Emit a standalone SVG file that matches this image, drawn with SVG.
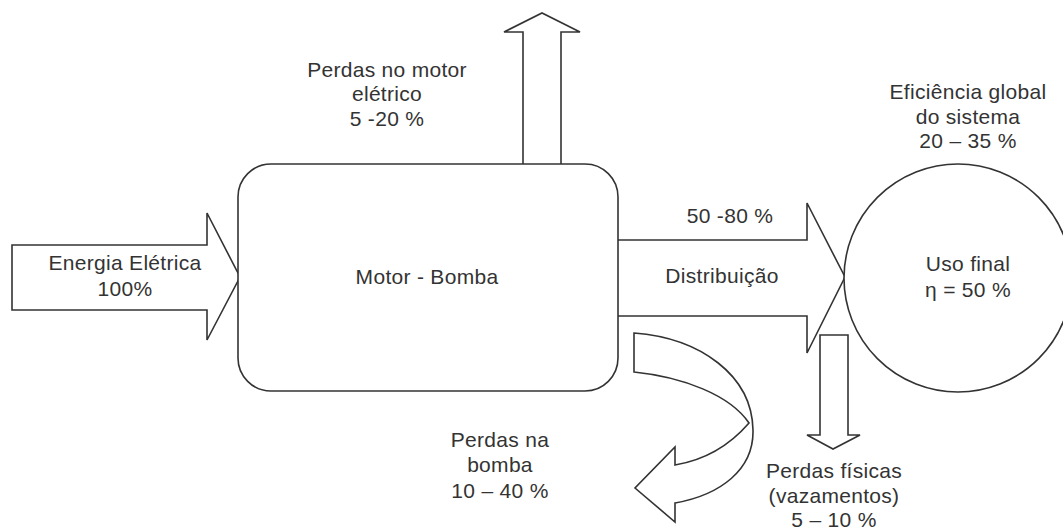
<svg xmlns="http://www.w3.org/2000/svg" width="1063" height="529" viewBox="0 0 1063 529">
<style>
.s{fill:#fff;stroke:#333;stroke-width:1.6;stroke-linejoin:miter}
text{font-family:"Liberation Sans",Arial,sans-serif;font-size:21px;letter-spacing:0.3px;fill:#333;text-anchor:middle}
</style>
<rect width="1063" height="529" fill="#fff"/>
<g id="connectors">
<path id="arrow-in" class="s" d="M12,245 L207,245 L207,213 L240,277 L207,340 L207,310 L12,310 Z"/>
<path id="arrow-motor-loss" class="s" d="M523,164 L523,32 L504,32 L542,13 L580,32 L561,32 L561,164"/>
<path id="arrow-dist" class="s" d="M618,240 L807,240 L807,203 L845,277 L807,353 L807,316 L618,316"/>
<path id="arrow-leak" class="s" d="M820,335 L848,335 L848,435 L860,435 L833,449 L807,435 L820,435 Z"/>
<path id="arrow-pump-loss" class="s" d="M634,333 C700,338 752,375 753,430 C754,470 720,495 675,503 L675,522 L635,488 L675,447 L675,465 C705,460 730,445 749,423 C730,395 683,377 634,372 Z"/>
</g>
<g id="node-motor">
<rect class="s" x="238" y="164" width="380" height="227" rx="33" ry="33"/>
<text x="427" y="284">Motor - Bomba</text>
</g>
<g id="node-uso">
<circle class="s" cx="958" cy="278" r="114"/>
<text x="968" y="271">Uso final</text>
<text x="968" y="297">η = 50 %</text>
</g>
<g id="labels">
<text x="125" y="270">Energia Elétrica</text>
<text x="125" y="296">100%</text>
<text x="387" y="77">Perdas no motor</text>
<text x="387" y="101">elétrico</text>
<text x="387" y="126">5 -20 %</text>
<text x="968" y="99">Eficiência global</text>
<text x="968" y="124">do sistema</text>
<text x="968" y="148">20 – 35 %</text>
<text x="730" y="223">50 -80 %</text>
<text x="722" y="283">Distribuição</text>
<text x="500" y="447">Perdas na</text>
<text x="500" y="472">bomba</text>
<text x="500" y="498">10 – 40 %</text>
<text x="834" y="478">Perdas físicas</text>
<text x="834" y="503">(vazamentos)</text>
<text x="834" y="527">5 – 10 %</text>
</g>
</svg>
